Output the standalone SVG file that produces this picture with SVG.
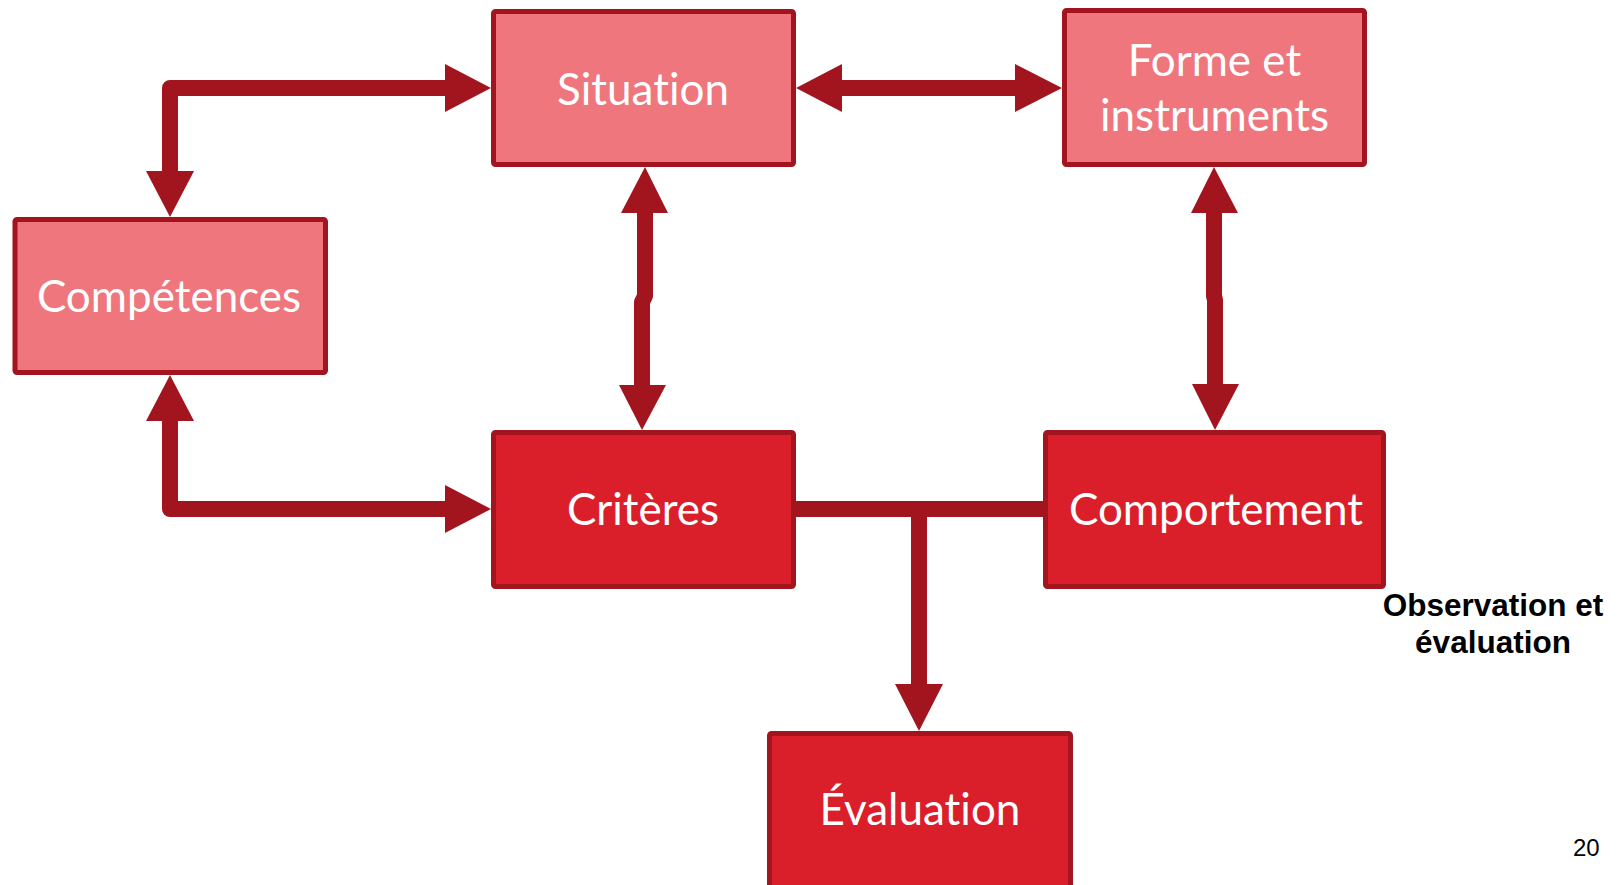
<svg xmlns="http://www.w3.org/2000/svg" width="1623" height="885" viewBox="0 0 1623 885">
<style>
.light{fill:#EE767C;stroke:#A3151E;stroke-width:5}
.dark{fill:#DA1F2A;stroke:#A3151E;stroke-width:5}
.lbl{font-family:Lato,"Open Sans",sans-serif;font-size:44px;fill:#FFFFFF;text-anchor:middle;font-variant-ligatures:none;font-feature-settings:"liga" 0,"clig" 0}
.conn{fill:none;stroke:#A3151E;stroke-width:16;stroke-linejoin:round}
.head{fill:#A3151E}
.note{font-family:"Liberation Sans",Arial,sans-serif;font-weight:bold;font-size:31.5px;fill:#000;text-anchor:middle}
</style>
<rect width="1623" height="885" fill="#FFFFFF"/>
<g id="connectors">
  <path class="conn" d="M170 172 V88 H446"/>
  <polygon class="head" points="146,171 194,171 170,217"/>
  <polygon class="head" points="445,64 445,112 491,88"/>
  <path class="conn" d="M170 420 V509 H446"/>
  <polygon class="head" points="146,421 194,421 170,375"/>
  <polygon class="head" points="445,485 445,533 491,509"/>
  <path class="conn" d="M841 88 H1016"/>
  <polygon class="head" points="842,64 842,112 796,88"/>
  <polygon class="head" points="1015,64 1015,112 1062,88"/>
  <path class="conn" d="M645 212 V296 L642 302 V386"/>
  <polygon class="head" points="621,213 668,213 645,167"/>
  <polygon class="head" points="619,385 666,385 642,430"/>
  <path class="conn" d="M1214 212 V296 L1215 300 V385"/>
  <polygon class="head" points="1191,213 1238,213 1214,167"/>
  <polygon class="head" points="1192,384 1239,384 1215,430"/>
  <path class="conn" d="M795 509 H1044 M919 509 V685"/>
  <polygon class="head" points="895,684 943,684 919,731"/>
</g>
<g id="situation">
  <rect class="light" x="493.5" y="11.5" width="300" height="153" rx="2"/>
  <text class="lbl" x="643" y="105">Situation</text>
</g>
<g id="competences">
  <rect class="light" x="15" y="219.5" width="310.5" height="153" rx="2"/>
  <text class="lbl" x="169" y="312">Compétences</text>
</g>
<g id="forme">
  <rect class="light" x="1064.5" y="10.5" width="300" height="154" rx="2"/>
  <text class="lbl" x="1214.5" y="76">Forme et</text>
  <text class="lbl" x="1214.5" y="131">instruments</text>
</g>
<g id="criteres">
  <rect class="dark" x="493.5" y="432.5" width="300" height="154" rx="2"/>
  <text class="lbl" x="643" y="525">Critères</text>
</g>
<g id="comportement">
  <rect class="dark" x="1045.5" y="432.5" width="338" height="154" rx="2"/>
  <text class="lbl" x="1216" y="525">Comportement</text>
</g>
<g id="evaluation">
  <rect class="dark" x="769.5" y="733.5" width="301" height="200" rx="2"/>
  <text class="lbl" x="920" y="825">Évaluation</text>
</g>
<g id="note">
  <text class="note" x="1493" y="616">Observation et</text>
  <text class="note" x="1493" y="653">évaluation</text>
</g>
<text x="1573" y="856" font-family="'Liberation Sans',Arial,sans-serif" font-size="24" fill="#000">20</text>
</svg>
